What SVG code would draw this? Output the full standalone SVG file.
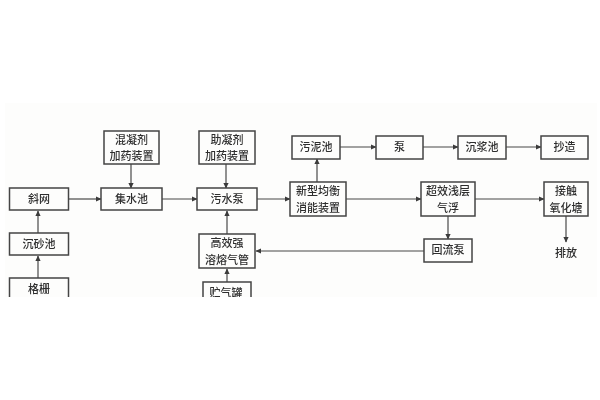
<svg xmlns="http://www.w3.org/2000/svg" width="600" height="400" viewBox="0 0 600 400">
<style>
.n{fill:#fdfdfc;stroke:#444;stroke-width:1.5}
.t{font-family:"Noto Sans CJK SC","Noto Sans CJK JP",sans-serif;font-size:11px;fill:#2e2e2e;text-anchor:middle;font-weight:500}
.c{fill:none;stroke:#484848;stroke-width:1.2;marker-end:url(#a)}
</style>
<defs>
<marker id="a" markerWidth="6" markerHeight="6" refX="5" refY="3" orient="auto" markerUnits="userSpaceOnUse"><path d="M0 0.4L5.500 3L0 5.600z" fill="#3a3a3a"/></marker>
<filter id="b" x="-2%" y="-2%" width="104%" height="104%"><feGaussianBlur stdDeviation="0.4"/></filter>
<clipPath id="k"><rect x="0" y="0" width="600" height="297"/></clipPath>
</defs>
<rect width="600" height="400" fill="#fff"/>
<rect x="5" y="103" width="592" height="194" fill="#fdfdfc"/>
<g filter="url(#b)" clip-path="url(#k)">
<g id="connectors">
<path class="c" d="M38 233V211"/>
<path class="c" d="M38 278V256"/>
<path class="c" d="M69 199H101"/>
<path class="c" d="M131 164V188"/>
<path class="c" d="M162 199H197"/>
<path class="c" d="M226 164V188"/>
<path class="c" d="M257 199H290"/>
<path class="c" d="M227 234V211"/>
<path class="c" d="M227 282V269"/>
<path class="c" d="M317 182V159"/>
<path class="c" d="M340 147H376"/>
<path class="c" d="M423 147H458"/>
<path class="c" d="M506 147H541"/>
<path class="c" d="M346 199H421"/>
<path class="c" d="M475 199H544"/>
<path class="c" d="M448 216V239"/>
<path class="c" d="M566 216V242"/>
<path class="c" d="M424 251H256"/>
</g>
<g id="n1"><rect class="n" x="9.500" y="188" width="59" height="22"/><text class="t" x="39" y="203">斜网</text></g>
<g id="n2"><rect class="n" x="9.500" y="233" width="59" height="22"/><text class="t" x="39" y="248">沉砂池</text></g>
<g id="n3"><rect class="n" x="9.500" y="278" width="59" height="30"/><text class="t" x="39" y="293">格栅</text></g>
<g id="n4"><rect class="n" x="104" y="131" width="55" height="33"/><text class="t" x="131.500" y="144">混凝剂</text><text class="t" x="131.500" y="160">加药装置</text></g>
<g id="n5"><rect class="n" x="101" y="188" width="61" height="22"/><text class="t" x="131.500" y="203">集水池</text></g>
<g id="n6"><rect class="n" x="199" y="131" width="56" height="33"/><text class="t" x="227" y="144">助凝剂</text><text class="t" x="227" y="160">加药装置</text></g>
<g id="n7"><rect class="n" x="197" y="188" width="60" height="22"/><text class="t" x="227" y="203">污水泵</text></g>
<g id="n8"><rect class="n" x="199" y="234" width="56" height="34"/><text class="t" x="227" y="247">高效强</text><text class="t" x="227" y="264">溶熔气管</text></g>
<g id="n9"><rect class="n" x="203" y="282" width="48" height="30"/><text class="t" x="226" y="297">贮气罐</text></g>
<g id="n10"><rect class="n" x="292" y="136" width="48" height="23"/><text class="t" x="316" y="151">污泥池</text></g>
<g id="n11"><rect class="n" x="376" y="136" width="47" height="23"/><text class="t" x="399.500" y="151">泵</text></g>
<g id="n12"><rect class="n" x="458" y="136" width="48" height="23"/><text class="t" x="482" y="151">沉浆池</text></g>
<g id="n13"><rect class="n" x="541" y="136" width="47" height="23"/><text class="t" x="564.500" y="151">抄造</text></g>
<g id="n14"><rect class="n" x="290" y="182" width="56" height="34"/><text class="t" x="318" y="195">新型均衡</text><text class="t" x="318" y="212">消能装置</text></g>
<g id="n15"><rect class="n" x="421" y="182" width="54" height="34"/><text class="t" x="448" y="195">超效浅层</text><text class="t" x="448" y="212">气浮</text></g>
<g id="n16"><rect class="n" x="544" y="182" width="44" height="34"/><text class="t" x="566" y="195">接触</text><text class="t" x="566" y="212">氧化塘</text></g>
<g id="n17"><rect class="n" x="424" y="239" width="48" height="23"/><text class="t" x="448" y="254">回流泵</text></g>
<g id="n18"><text class="t" x="566" y="257">排放</text></g>
</g>
</svg>
